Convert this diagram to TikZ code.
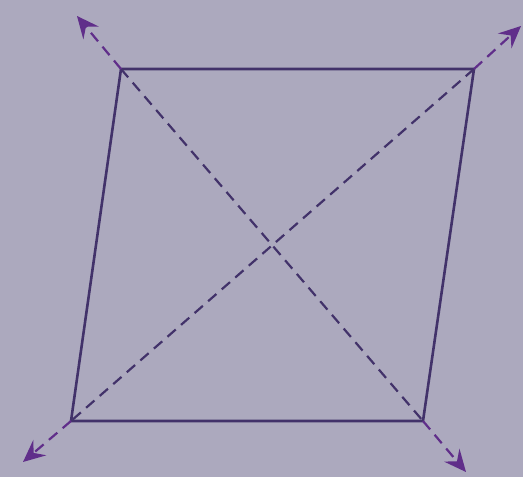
\documentclass[tikz,border=0pt]{standalone}
\usetikzlibrary{arrows.meta}
\definecolor{bg}{RGB}{172,169,190}
\definecolor{edge}{RGB}{66,50,106}
\definecolor{arr}{RGB}{96,46,138}
\begin{document}
\begin{tikzpicture}[x=1pt,y=-1pt,
  side/.style={edge,line width=2.6pt,line join=miter},
  diag/.style={edge,line width=2.2pt,dash pattern=on 11pt off 7pt},
  tipend/.style={arr,line width=2.2pt,-{Stealth[length=22pt,width=20pt,inset=8pt]}}]
\fill[bg] (0,0) rectangle (523,477);
\useasboundingbox (0,0) rectangle (523,477);
\coordinate (A) at (121,69);
\coordinate (B) at (474,69);
\coordinate (C) at (423,421);
\coordinate (D) at (71,421);
\coordinate (tA) at (77,16);
\coordinate (tB) at (521,26);
\coordinate (tC) at (466,472);
\coordinate (tD) at (23,462);
\draw[side] (A) -- (B) -- (C) -- (D) -- cycle;
\draw[diag] (A) -- (C);
\draw[diag] (B) -- (D);
\draw[diag,tipend] (A) -- (tA);
\draw[diag,tipend] (B) -- (tB);
\draw[diag,tipend] (C) -- (tC);
\draw[diag,tipend] (D) -- (tD);
\end{tikzpicture}
\end{document}
